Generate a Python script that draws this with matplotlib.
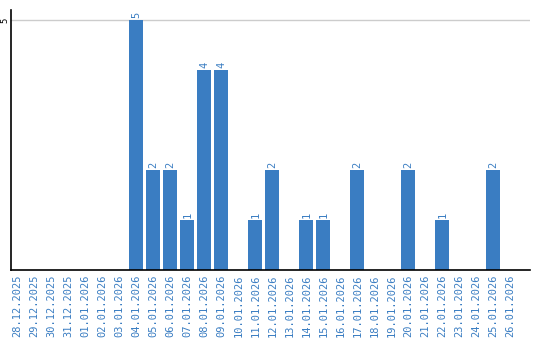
import matplotlib.pyplot as plt
import numpy as np

dates = ["28.12.2025", "29.12.2025", "30.12.2025", "31.12.2025",
         "01.01.2026", "02.01.2026", "03.01.2026", "04.01.2026",
         "05.01.2026", "06.01.2026", "07.01.2026", "08.01.2026",
         "09.01.2026", "10.01.2026", "11.01.2026", "12.01.2026",
         "13.01.2026", "14.01.2026", "15.01.2026", "16.01.2026",
         "17.01.2026", "18.01.2026", "19.01.2026", "20.01.2026",
         "21.01.2026", "22.01.2026", "23.01.2026", "24.01.2026",
         "25.01.2026", "26.01.2026"]
counts = [0, 0, 0, 0, 0, 0, 0, 5, 2, 2, 1, 4, 4, 0, 1, 2,
          0, 1, 1, 0, 2, 0, 0, 2, 0, 1, 0, 0, 2, 0]

blue = "#3a7dc2"
fig = plt.figure(figsize=(5.4, 3.4), dpi=100)
ax = fig.add_axes([11/540, 70/340, 519/540, 260/340])

x = np.arange(len(dates))
ax.bar(x, counts, width=0.82, color=blue, zorder=2)
for xi, c in zip(x, counts):
    if c > 0:
        ax.text(xi, c + 0.04, str(c), rotation=90, ha="center", va="bottom",
                color=blue, fontsize=7.5, family="DejaVu Sans Mono")

ax.set_xlim(-0.38, 30.15)
ax.set_ylim(0, 5.2)
ax.set_yticks([5])
ax.set_yticklabels(["5"], rotation=90, va="center", fontsize=6.5,
                   family="DejaVu Sans Mono")
ax.grid(axis="y", color="#cccccc", linewidth=1, zorder=0)
ax.set_xticks(x)
ax.set_xticklabels(dates, rotation=90, color=blue, fontsize=7.5,
                   family="DejaVu Sans Mono")
ax.tick_params(length=0, pad=3)
ax.tick_params(axis="y", pad=1)
ax.spines["top"].set_visible(False)
ax.spines["right"].set_visible(False)
ax.spines["left"].set_linewidth(1.2)
ax.spines["bottom"].set_linewidth(1.2)

fig.savefig("out.png", dpi=100)
